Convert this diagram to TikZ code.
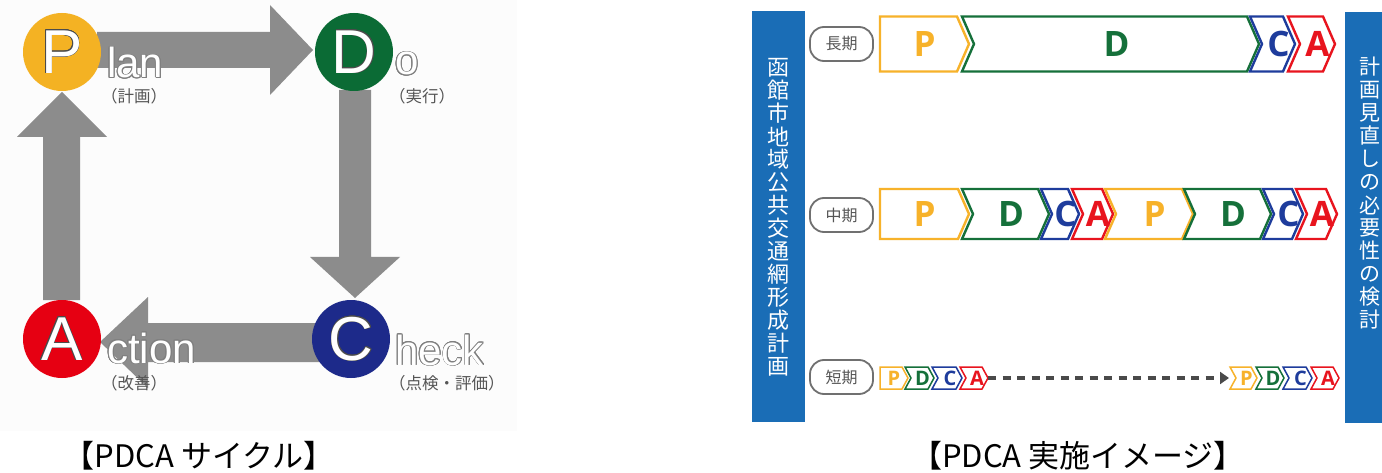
\documentclass[tikz,border=0pt]{standalone}
\usepackage{fontspec}
\setmainfont{Liberation Sans}
\newfontfamily\jp{Noto Sans CJK JP}
\newfontfamily\os{Open Sans}
\usepackage{contour}
\usetikzlibrary{arrows.meta}
\definecolor{cP}{HTML}{F4B223}
\definecolor{cD}{HTML}{0B6B35}
\definecolor{cC}{HTML}{1D2A8A}
\definecolor{cA}{HTML}{E60012}
\definecolor{cbP}{HTML}{F7B22A}
\definecolor{cbD}{HTML}{15703A}
\definecolor{cbC}{HTML}{1E3C9C}
\definecolor{cbA}{HTML}{E8141E}
\definecolor{arrowgray}{HTML}{8C8C8C}
\definecolor{barblue}{HTML}{1A6DB6}
\definecolor{pillgray}{HTML}{707070}
\definecolor{subgray}{HTML}{555555}
\definecolor{dashgray}{HTML}{4A4A4A}
\tikzset{
  cyclearrow/.style={fill=arrowgray,draw=none},
  phase/.style={circle,minimum size=78pt,inner sep=0pt,draw=none},
  bigletter/.style={font=\fontsize{62}{62}\selectfont,text=white},
  outword/.style={font=\fontsize{42}{42}\selectfont,anchor=base west,inner sep=0pt},
  subword/.style={font=\jp\fontsize{16.5}{16.5}\selectfont,text=subgray,anchor=west,inner sep=0pt},
  chevline/.style={line width=#1,line join=miter,fill=white},
  pill/.style={draw=pillgray,line width=1.8pt,rounded corners=14pt,minimum width=63pt,minimum height=34pt,inner sep=0pt,font=\jp\fontsize{16}{16}\selectfont,text=subgray},
  bar/.style={fill=barblue,draw=none},
  vchar/.style={text=white,inner sep=0pt},
  caption/.style={font=\jp\fontsize{31}{31}\selectfont,inner sep=0pt},
}
% chevron: name, x0, x1, yc, half height, depth, colour, label, notch(0/1)
\def\chevlw{2.4pt}
\def\chevfont{\os\bfseries\fontsize{35}{35}\selectfont}
\newcommand\chev[9]{%
  \draw[chevline=\chevlw,draw=#7] (#2,#4-#5) -- (#3,#4-#5) -- (#3+#6,#4) -- (#3,#4+#5) -- (#2,#4+#5) -- (#2+#6*#9,#4) -- cycle;
  \node[text=#7,font=\chevfont,inner sep=0pt] (#1) at ({(#2+#6*#9+#3+#6)/2},#4) {#8};}
\begin{document}
\begin{tikzpicture}[x=1pt,y=-1pt]
\useasboundingbox (0,0) rectangle (1382,473);
\fill[white] (0,0) rectangle (1382,473);
\fill[black!1] (0,0) rectangle (517,431);
% ---- PDCA cycle ----
\fill[cyclearrow] (97,32) -- (270,32) -- (270,5) -- (313,50) -- (270,95) -- (270,68) -- (97,68) -- cycle;
\fill[cyclearrow] (339,90) -- (371,90) -- (371,257) -- (400,257) -- (355,298) -- (310,257) -- (339,257) -- cycle;
\fill[cyclearrow] (320,323) -- (320,362) -- (148,362) -- (148,388) -- (100,342) -- (148,297) -- (148,323) -- cycle;
\fill[cyclearrow] (43,300) -- (80,300) -- (80,137) -- (107,137) -- (62,92) -- (17,137) -- (43,137) -- cycle;
\node[phase,fill=cP] (P) at (62,52) {};
\node[phase,fill=cD] (D) at (354,52) {};
\node[phase,fill=cC] (C) at (351,339) {};
\node[phase,fill=cA] (A) at (62,339) {};
\contourlength{0.6pt}
\node[bigletter] (Pl) at (P.center) {\contour{black!70}{P}};
\node[bigletter] (Dl) at (D.center) {\contour{black!70}{D}};
\node[bigletter] (Cl) at (C.center) {\contour{black!70}{C}};
\node[bigletter] (Al) at (A.center) {\contour{black!70}{A}};
\contourlength{0.9pt}
\node[outword,text=white] (plan) at (107,78) {\contour{black!50}{lan}};
\node[outword,text=white] (do) at (395,75) {\contour{black!50}{o}};
\node[outword,text=white] (act) at (107,363) {\contour{black!50}{ction}};
\node[outword,text=white] (chk) at (395,365) {\contour{black!50}{heck}};
\node[subword] (planj) at (101,96) {（計画）};
\node[subword] (doj) at (389,96) {（実行）};
\node[subword] (actj) at (101,383) {（改善）};
\node[subword] (chkj) at (389,383) {（点検・評価）};
\node[caption] (cap1) at (199,456) {【PDCA サイクル】};
% ---- PDCA implementation image ----
\fill[bar] (752,11) rectangle (805,422);
\fill[bar] (1345,12) rectangle (1382,423);
\foreach \c [count=\i] in {函,館,市,地,域,公,共,交,通,網,形,成,計,画}
  \node[vchar,font=\jp\fontsize{22}{22}\selectfont] (L\i) at (778.5,{67.5+(\i-1)*23}) {\c};
\foreach \c [count=\i] in {計,画,見,直,し,の,必,要,性,の,検,討}
  \node[vchar,font=\jp\fontsize{21}{21}\selectfont] (R\i) at (1370,{67+(\i-1)*23}) {\c};
\node[pill] (long) at (841.5,44) {長期};
\node[pill] (mid) at (841.5,215) {中期};
\node[pill] (short) at (841.5,377) {短期};
% long
\chev{lP}{880}{957}{44}{27.5}{12}{cbP}{P}{0}
\chev{lD}{962}{1247}{44}{27.5}{12}{cbD}{D}{1}
\chev{lC}{1250}{1283}{44}{27.5}{12}{cbC}{C}{1}
\chev{lA}{1288}{1323}{44}{27.5}{12}{cbA}{A}{1}
% middle
\chev{mP1}{880}{958}{214}{25}{11}{cbP}{P}{0}
\chev{mD1}{962}{1038}{214}{25}{11}{cbD}{D}{1}
\chev{mC1}{1041}{1068}{214}{25}{11}{cbC}{C}{1}
\chev{mA1}{1072}{1102}{214}{25}{11}{cbA}{A}{1}
\chev{mP2}{1105}{1182}{214}{25}{11}{cbP}{P}{1}
\chev{mD2}{1184}{1260}{214}{25}{11}{cbD}{D}{1}
\chev{mC2}{1263}{1292}{214}{25}{11}{cbC}{C}{1}
\chev{mA2}{1296}{1326}{214}{25}{11}{cbA}{A}{1}
% short
\def\chevlw{1.5pt}
\def\chevfont{\os\bfseries\fontsize{20}{20}\selectfont}
\chev{sP1}{880}{902}{378}{11}{6}{cbP}{P}{0}
\chev{sD1}{905}{928}{378}{11}{6}{cbD}{D}{1}
\chev{sC1}{932}{956}{378}{11}{6}{cbC}{C}{1}
\chev{sA1}{960}{982}{378}{11}{6}{cbA}{A}{1}
\chev{sP2}{1230}{1251}{378}{11}{6}{cbP}{P}{1}
\chev{sD2}{1256}{1278}{378}{11}{6}{cbD}{D}{1}
\chev{sC2}{1283}{1306}{378}{11}{6}{cbC}{C}{1}
\chev{sA2}{1311}{1333}{378}{11}{6}{cbA}{A}{1}
\coordinate (dashstart) at (988,378);
\coordinate (dashend) at (1229,378);
\draw[dashgray,line width=3.2pt,dash pattern=on 8pt off 6.5pt,-{Triangle[length=9pt,width=12pt]}] (dashstart) -- (dashend);
\node[caption] (cap2) at (1078,456) {【PDCA 実施イメージ】};
\end{tikzpicture}
\end{document}
